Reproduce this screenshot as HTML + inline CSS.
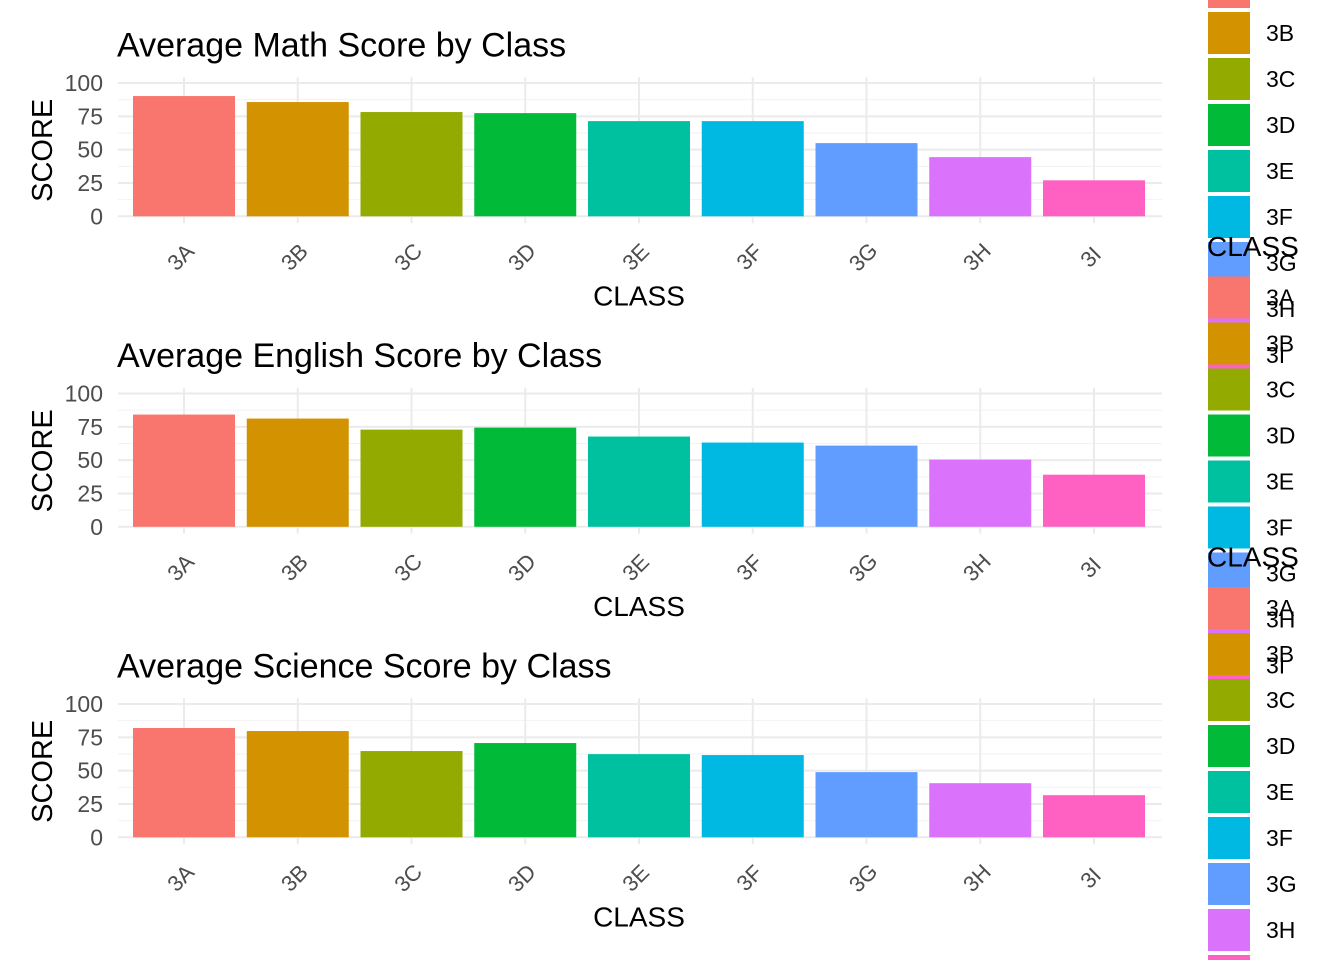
<!DOCTYPE html>
<html><head><meta charset="utf-8"><style>
body{margin:0;background:#fff;}
svg text{font-family:"Liberation Sans",Arial,sans-serif;}
</style></head><body>
<svg id="chart" width="1344" height="960" xmlns="http://www.w3.org/2000/svg"></svg>
<script>
const categories=["3A","3B","3C","3D","3E","3F","3G","3H","3I"];
const colors=["#F8766D","#D39200","#93AA00","#00BA38","#00C19F","#00B9E3","#619CFF","#DB72FB","#FF61C3"];
const titles=["Average Math Score by Class","Average English Score by Class","Average Science Score by Class"];
const mathScores=[90.2,85.7,78.2,77.4,71.4,71.4,54.9,44.4,27.0];
const englishScores=[84.2,81.2,72.9,74.4,67.7,63.2,60.9,50.4,39.1];
const scienceScores=[82.0,79.7,64.7,70.7,62.4,61.7,48.9,40.6,31.6];
const yTicks=[0,25,50,75,100];
const series=[mathScores,englishScores,scienceScores];
const svg=document.getElementById('chart');
const NS="http://www.w3.org/2000/svg";
function mk(tag,attrs,parent,text){const e=document.createElementNS(NS,tag);for(const k in attrs)e.setAttribute(k,attrs[k]);if(text!==undefined)e.textContent=text;(parent||svg).appendChild(e);return e;}
const panelOff=310.5;
function xScale(i){return 184+i*113.75;}
const bw=102;
series.forEach((vals,p)=>{
  const y0=216.3+p*panelOff;
  const yScale=v=>y0-v*1.333;
  const g=mk('g',{});
  
  
  for(let t=12.5;t<100;t+=25){const l=mk('line',{x1:118,x2:1162,y1:yScale(t),y2:yScale(t),stroke:'#f2f2f2','stroke-width':1},g);}
  yTicks.forEach(t=>{const l=mk('line',{x1:118,x2:1162,y1:yScale(t),y2:yScale(t),stroke:'#ebebeb','stroke-width':2},g);
    const tx=mk('text',{x:103,y:yScale(t)+8,'text-anchor':'end','font-size':23,fill:'#4d4d4d'},g,String(t));});
  categories.forEach((c,i)=>{const l=mk('line',{x1:xScale(i),x2:xScale(i),y1:y0-139,y2:y0+7,stroke:'#ebebeb','stroke-width':2},g);});
  vals.forEach((v,i)=>{const r=mk('rect',{x:xScale(i)-bw/2,y:yScale(v),width:bw,height:y0-yScale(v),fill:colors[i]},g);
    const tx=mk('text',{x:0,y:0,'text-anchor':'middle','font-size':22,fill:'#4d4d4d',transform:`translate(${xScale(i)+2},${y0+46}) rotate(-45)`},g,categories[i]);});
  const tt=mk('text',{x:117,y:y0-160,'font-size':34,fill:'#000'},g,titles[p]);
  const yt=mk('text',{x:0,y:0,'text-anchor':'middle','font-size':29,fill:'#000',transform:`translate(52,${y0-66}) rotate(-90)`},g,'SCORE');
  const xt=mk('text',{x:639,y:y0+89,'text-anchor':'middle','font-size':28,fill:'#000'},g,'CLASS');
});
series.forEach((vals,p)=>{
  const lg=mk('g',{});
  
  
  const off=p*panelOff;
  const lt=mk('text',{x:1207,y:256+off-panelOff,'font-size':28,fill:'#000'},lg,'CLASS');
  categories.forEach((c,i)=>{const top=-34+off+i*46;
    const r=mk('rect',{x:1208,y:top,width:42,height:42,fill:colors[i]},lg);
    const tx=mk('text',{x:1266,y:top+29,'font-size':23,fill:'#000'},lg,c);});
});
</script>
</body></html>
